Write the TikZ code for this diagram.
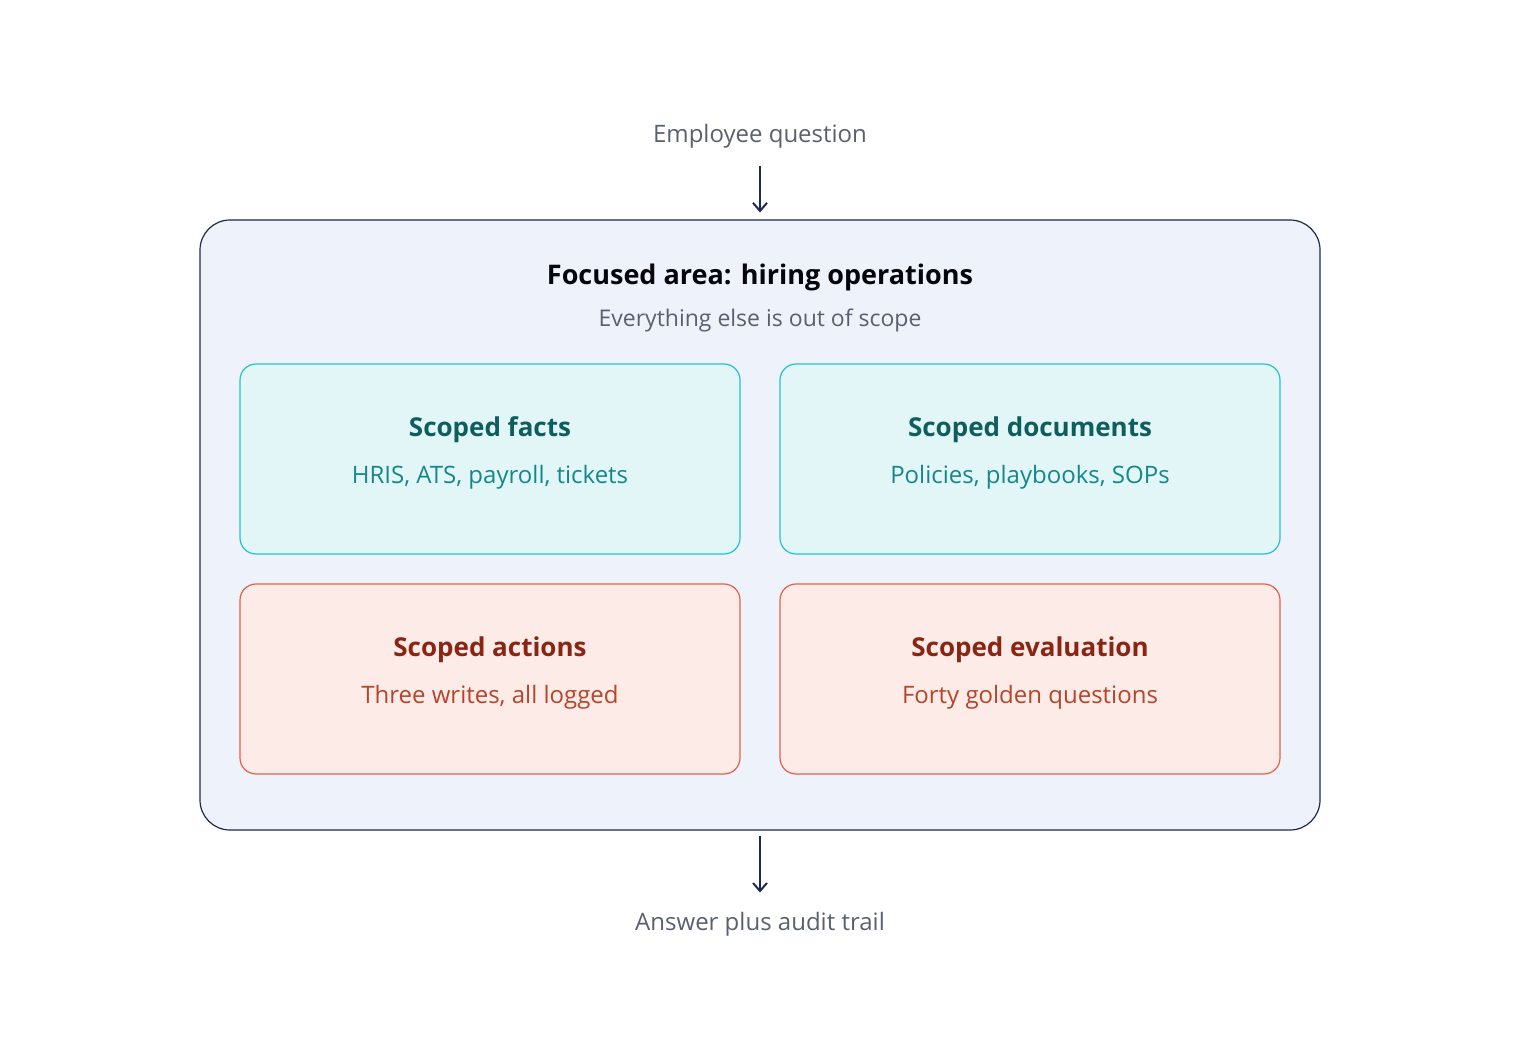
\documentclass[tikz,border=0pt]{standalone}
\usepackage{fontspec}
\setmainfont{Open Sans}
\usetikzlibrary{arrows.meta,positioning}
\definecolor{navy}{HTML}{1E2A4F}
\definecolor{greytext}{HTML}{5A6070}
\definecolor{areafill}{HTML}{EEF2FA}
\definecolor{tealfill}{HTML}{E2F6F8}
\definecolor{tealline}{HTML}{22C3D0}
\definecolor{tealhead}{HTML}{0E5E5E}
\definecolor{tealsub}{HTML}{14878A}
\definecolor{redfill}{HTML}{FDEBE7}
\definecolor{redline}{HTML}{E8604A}
\definecolor{redhead}{HTML}{8B2513}
\definecolor{redsub}{HTML}{B5452A}
\tikzset{
  note/.style={text=greytext, font=\fontsize{24}{28}\selectfont},
  flow/.style={draw=navy, line width=2pt, -{Straight Barb[length=8pt,width=14pt]}},
  scope box/.style={rounded corners=16pt, minimum width=500pt, minimum height=190pt, line width=1.2pt},
  facts/.style={scope box, draw=tealline, fill=tealfill},
  acts/.style={scope box, draw=redline, fill=redfill},
  head/.style={font=\fontsize{26}{30}\selectfont\bfseries},
  sub/.style={font=\fontsize{24}{28}\selectfont},
}
\begin{document}
\begin{tikzpicture}[x=1pt,y=-1pt]
\useasboundingbox (0,0) rectangle (1520,1050);
%
\node[draw=navy, fill=areafill, rounded corners=30pt, line width=1.2pt,
  minimum width=1120pt, minimum height=610pt] (area) at (760,525) {};
\node[head, text=black!85!navy, font=\fontsize{27}{31}\selectfont\bfseries] (areahead) at (760,277) {Focused area: hiring operations};
\node[note, font=\fontsize{23}{27}\selectfont] (areasub) at (760,320) {Everything else is out of scope};
%
\node[facts] (facts) at (490,459) {};
\node[facts] (docs) at (1030,459) {};
\node[acts] (actions) at (490,679) {};
\node[acts] (evals) at (1030,679) {};
%
\foreach \n/\h/\s/\c in {facts/Scoped facts/{HRIS, ATS, payroll, tickets}/teal,
    docs/Scoped documents/{Policies, playbooks, SOPs}/teal,
    actions/Scoped actions/{Three writes, all logged}/red,
    evals/Scoped evaluation/{Forty golden questions}/red} {
  \node[head, text=\c head] at ([yshift=29pt]\n.center) {\h};
  \node[sub, text=\c sub] at ([yshift=-18pt]\n.center) {\s};
}
%
\node[note] (question) at (760,136) {Employee question};
\node[note] (answer) at (760,924) {Answer plus audit trail};
\draw[flow] ([yshift=-14pt]question.south) -- ([yshift=7pt]area.north);
\draw[flow] ([yshift=-5pt]area.south) -- ([yshift=16pt]answer.north);
\end{tikzpicture}
\end{document}
